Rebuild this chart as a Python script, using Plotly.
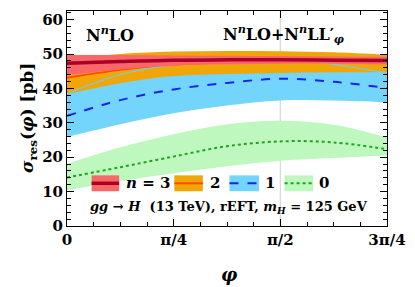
import numpy as np
import plotly.graph_objects as go

PI = np.pi
phi = [0, PI/8, PI/4, 3*PI/8, PI/2, 5*PI/8, 3*PI/4]

# n = 3
n3_c = [47.3, 47.8, 48.2, 48.3, 48.3, 48.2, 48.1]
n3_hi = [49.7, 49.7, 49.6, 49.5, 49.4, 49.3, 49.2]
n3_lo = [43.8, 45.5, 46.6, 47.0, 47.2, 47.2, 47.0]
# n = 2
n2_c = [43.1, 45.4, 46.9, 47.6, 47.9, 47.9, 47.6]
n2_hi = [48.5, 50.0, 50.7, 50.9, 50.8, 50.5, 49.8]
n2_lo = [38.3, 41.5, 43.6, 44.2, 44.5, 44.7, 44.8]
# n = 1
n1_c = [32.0, 36.6, 39.7, 41.6, 42.8, 41.9, 40.1]
n1_hi = [38.5, 44.0, 46.9, 48.3, 48.8, 47.0, 44.5]
n1_lo = [25.9, 29.6, 32.8, 35.0, 36.5, 36.5, 36.0]
# n = 0
n0_c = [14.1, 17.1, 20.2, 23.2, 24.6, 24.3, 22.3]
n0_hi = [18.1, 22.9, 26.7, 29.6, 30.6, 29.4, 25.7]
n0_lo = [10.4, 13.0, 15.3, 17.4, 19.0, 19.8, 20.5]

xticks = [0, PI/4, PI/2, 3*PI/4]
xticklabels = ["0", "π/4", "π/2", "3π/4"]
yticks = [0, 10, 20, 30, 40, 50, 60]

FONT = "DejaVu Serif"

fig = go.Figure()

def band(lo, hi, color):
    fig.add_trace(go.Scatter(x=phi, y=lo, mode="lines", line=dict(width=0, shape="spline", color=color),
                             showlegend=False, hoverinfo="skip"))
    fig.add_trace(go.Scatter(x=phi, y=hi, mode="lines", line=dict(width=0, shape="spline", color=color),
                             fill="tonexty", fillcolor=color, showlegend=False, hoverinfo="skip"))

def cline(y, color, width, dash="solid"):
    fig.add_trace(go.Scatter(x=phi, y=y, mode="lines",
                             line=dict(color=color, width=width, dash=dash, shape="spline"),
                             showlegend=False, hoverinfo="skip"))

C_RED_BAND = "rgb(249,104,104)"
C_RED_LINE = "rgb(170,0,40)"
C_OR_BAND = "rgb(241,166,8)"
C_OR_LINE = "rgb(255,75,0)"
C_BL_BAND = "rgb(115,212,252)"
C_BL_LINE = "rgb(25,35,235)"
C_GR_BAND = "rgb(190,248,190)"
C_GR_LINE = "rgb(30,165,30)"

band(n0_lo, n0_hi, C_GR_BAND)
cline(n0_c, C_GR_LINE, 2, "dot")
band(n1_lo, n1_hi, C_BL_BAND)
cline(n1_c, C_BL_LINE, 2, "dash")
band(n2_lo, n2_hi, C_OR_BAND)
cline(n2_c, C_OR_LINE, 1.8)
cline(n1_hi, "rgb(130,200,215)", 1.2)
band(n3_lo, n3_hi, C_RED_BAND)
cline(n3_c, C_RED_LINE, 3.5)

# vertical reference line at pi/2
fig.add_shape(type="line", x0=PI/2, x1=PI/2, y0=0, y1=1, yref="paper",
              line=dict(color="rgb(215,215,215)", width=1.2), layer="below")

W, H = 415, 287
L, R, T, B = 67, 23, 9.5, 61
pw, ph = W - L - R, H - T - B

def px(x):
    return (x - L) / pw

def py(y):
    return (H - B - y) / ph

# legend (manual)
leg = [(92, 120, C_RED_BAND, C_RED_LINE, 3.5, "solid", "<i>n</i> = 3", 125),
       (176, 205, C_OR_BAND, C_OR_LINE, 2, "solid", "2", 210),
       (232, 262, C_BL_BAND, C_BL_LINE, 2, "dash", "1", 266),
       (288, 317, C_GR_BAND, C_GR_LINE, 2, "dot", "0", 321)]
for x0, x1, bc, lc, lw, dash, txt, tx in leg:
    fig.add_shape(type="rect", xref="paper", yref="paper", x0=px(x0), x1=px(x1), y0=py(191), y1=py(175),
                  fillcolor=bc, line=dict(width=0))
    fig.add_shape(type="line", xref="paper", yref="paper", x0=px(x0), x1=px(x1), y0=py(183), y1=py(183),
                  line=dict(color=lc, width=lw, dash=dash))
    fig.add_annotation(text=txt, xref="paper", yref="paper", x=px(tx), y=py(183), xanchor="left",
                       yanchor="middle", showarrow=False,
                       font=dict(family=FONT, size=15, color="black", weight="bold"))

fig.add_annotation(text="<i>gg</i> → <i>H</i>  (13 TeV), rEFT, <i>m<sub>H</sub></i> = 125 GeV",
                   xref="paper", yref="paper", x=px(232), y=py(207), xanchor="center", yanchor="middle",
                   showarrow=False, font=dict(family=FONT, size=13, color="black", weight="bold"))
fig.add_annotation(text="N<sup><i>n</i></sup>LO", xref="paper", yref="paper", x=px(84), y=py(33),
                   xanchor="left", yanchor="middle", showarrow=False,
                   font=dict(family=FONT, size=16, color="black", weight="bold"))
fig.add_annotation(text="N<sup><i>n</i></sup>LO+N<sup><i>n</i></sup>LL′<sub><i>φ</i></sub>", xref="paper",
                   yref="paper", x=px(287), y=py(33), xanchor="center", yanchor="middle", showarrow=False,
                   font=dict(family=FONT, size=16, color="black", weight="bold"))
fig.add_annotation(text="<i>σ</i><sub>res</sub>(<i>φ</i>) [pb]", xref="paper", yref="paper",
                   x=px(28), y=0.5, textangle=-90, xanchor="center", yanchor="middle", showarrow=False,
                   font=dict(family=FONT, size=17, color="black", weight="bold"))
fig.add_annotation(text="<i>φ</i>", xref="paper", yref="paper", x=px(232), y=py(275),
                   xanchor="center", yanchor="middle", showarrow=False,
                   font=dict(family=FONT, size=18, color="black", weight="bold"))

axis_common = dict(showgrid=False, zeroline=False, showline=True, linecolor="black", linewidth=1,
                   mirror="allticks", ticks="inside", ticklen=7, tickcolor="black", tickwidth=1,
                   tickfont=dict(family=FONT, size=15, color="black", weight="bold"))

fig.update_xaxes(range=[0, 3*PI/4], tickmode="array", tickvals=xticks, ticktext=xticklabels,
                 minor=dict(dtick=PI/16, tick0=0, ticks="inside", ticklen=4, tickcolor="black"),
                 **axis_common)
fig.update_yaxes(range=[0, 62.5], tickmode="array", tickvals=yticks,
                 minor=dict(dtick=2, tick0=0, ticks="inside", ticklen=4, tickcolor="black"),
                 **axis_common)

fig.update_layout(width=W, height=H, margin=dict(l=L, r=R, t=T, b=B, pad=0),
                  plot_bgcolor="white", paper_bgcolor="white", showlegend=False)

fig.write_html("out.html", config={"displayModeBar": False},
               post_script="document.body.style.margin='0px';document.body.style.padding='0px';")
